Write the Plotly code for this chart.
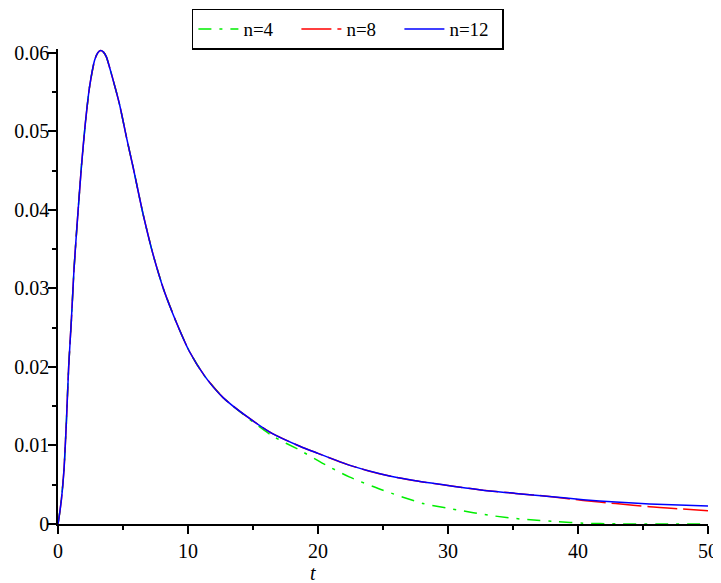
import plotly.graph_objects as go

# Values
t_blue = [0, 0.05, 0.26, 0.46, 0.64, 0.82, 1.03, 1.23, 1.44, 1.8, 2.1, 2.43, 2.82, 3.05, 3.28,
          3.5, 3.72, 4.23, 4.74, 5.26, 5.77, 6.54, 7.3, 8.1, 9.1, 10.1, 11.3, 12.7, 14.6, 16.5,
          18.6, 20, 22.4, 25, 27.5, 30, 32.7, 35.2, 37.8, 40.4, 42.9, 45.5, 50]
y_blue = [0, 0.0005, 0.0031, 0.0069, 0.0128, 0.0200, 0.0260, 0.0324, 0.0375, 0.0455, 0.0510,
          0.0557, 0.0591, 0.0600, 0.0603, 0.0601, 0.0595, 0.0566, 0.0534, 0.0493, 0.0455,
          0.0395, 0.0344, 0.0300, 0.0257, 0.0220, 0.0188, 0.0161, 0.0136, 0.0115, 0.0099,
          0.0090, 0.0075, 0.0063, 0.0055, 0.0049, 0.0043, 0.0039, 0.0035, 0.0031, 0.0028,
          0.00255, 0.0023]

t_red = [0, 0.05, 0.26, 0.46, 0.64, 0.82, 1.03, 1.23, 1.44, 1.8, 2.1, 2.43, 2.82, 3.05, 3.28,
         3.5, 3.72, 4.23, 4.74, 5.26, 5.77, 6.54, 7.3, 8.1, 9.1, 10.1, 11.3, 12.7, 14.6, 16.5,
         18.6, 20, 22.4, 25, 27.5, 30, 32.7, 35.2, 37.8, 40.4, 42.9, 45.5, 50]
y_red = [0, 0.0005, 0.0031, 0.0069, 0.0128, 0.0200, 0.0260, 0.0324, 0.0375, 0.0455, 0.0510,
         0.0557, 0.0591, 0.0600, 0.0603, 0.0601, 0.0595, 0.0566, 0.0534, 0.0493, 0.0455,
         0.0395, 0.0344, 0.0300, 0.0257, 0.0220, 0.0188, 0.0161, 0.0136, 0.0115, 0.0099,
         0.0090, 0.0075, 0.0063, 0.0055, 0.0049, 0.0043, 0.0039, 0.0035, 0.0030, 0.0026,
         0.0022, 0.0017]

t_green = [0, 0.05, 0.26, 0.46, 0.64, 0.82, 1.03, 1.23, 1.44, 1.8, 2.1, 2.43, 2.82, 3.05, 3.28,
           3.5, 3.72, 4.23, 4.74, 5.26, 5.77, 6.54, 7.3, 8.1, 9.1, 10.1, 11.3, 12.7, 14.6, 16.5,
           18.6, 20.4, 22.4, 25, 28.1, 30.7, 33.2, 35.8, 38.4, 40.4, 43, 46, 50]
y_green = [0, 0.0005, 0.0031, 0.0069, 0.0128, 0.0200, 0.0260, 0.0324, 0.0375, 0.0455, 0.0510,
           0.0557, 0.0591, 0.0600, 0.0603, 0.0601, 0.0595, 0.0566, 0.0534, 0.0493, 0.0455,
           0.0395, 0.0344, 0.0300, 0.0257, 0.0220, 0.0188, 0.0161, 0.0135, 0.0112, 0.0094,
           0.0077, 0.0060, 0.0043, 0.0026, 0.0018, 0.0011, 0.0006, 0.0003, 0.0001, 0.00002,
           0.0, 0.0]

y_ticks = [0, 0.01, 0.02, 0.03, 0.04, 0.05, 0.06]
y_ticklabels = ["0", "0.01", "0.02", "0.03", "0.04", "0.05", "0.06"]
x_ticks = [0, 10, 20, 30, 40, 50]

FONT = "Liberation Serif"

fig = go.Figure()
fig.add_trace(go.Scatter(x=t_green, y=y_green, mode="lines", name="n=4",
                         line=dict(color="#00ee00", width=1.5, dash="13px,8px,3px,8px",
                                   shape="spline", smoothing=0.6)))
fig.add_trace(go.Scatter(x=t_red, y=y_red, mode="lines", name="n=8",
                         line=dict(color="#ff0000", width=1.5, dash="30px,6px",
                                   shape="spline", smoothing=0.6)))
fig.add_trace(go.Scatter(x=t_blue, y=y_blue, mode="lines", name="n=12",
                         line=dict(color="#0000ff", width=1.5, shape="spline", smoothing=0.6)))

# page body has an 8px margin, so the figure starts at (8, 8) in the window
fig.update_layout(
    width=713, height=575,
    margin=dict(l=50, r=13, t=41, b=59, autoexpand=False),
    paper_bgcolor="white", plot_bgcolor="white",
    font=dict(family=FONT, size=20, color="black"),
    showlegend=True,
    legend=dict(orientation="h", x=0.446, xanchor="center", y=1.085, yanchor="top",
                bordercolor="black", borderwidth=1.5, bgcolor="white",
                font=dict(family=FONT, size=19), tracegroupgap=0,
                itemwidth=40, entrywidth=48),
    xaxis=dict(range=[0, 50], tickvals=x_ticks, ticks="outside", ticklen=8, tickwidth=1.5,
               tickcolor="black", showline=True, linecolor="black", linewidth=1.5,
               showgrid=False, zeroline=False, automargin=False,
               tickfont=dict(family=FONT, size=20),
               minor=dict(dtick=5, ticks="outside", ticklen=4, tickwidth=1.5, tickcolor="black",
                          showgrid=False)),
    yaxis=dict(range=[0, 0.0605], tickvals=y_ticks, ticktext=y_ticklabels, ticks="outside",
               ticklen=8, tickwidth=1.5, tickcolor="black", showline=True, linecolor="black",
               linewidth=1.5, showgrid=False, zeroline=False, automargin=False,
               ticklabelstandoff=-5,
               tickfont=dict(family=FONT, size=20),
               minor=dict(tickvals=[0.005, 0.015, 0.025, 0.035, 0.045, 0.055], ticks="outside",
                          ticklen=4, tickwidth=1.5, tickcolor="black", showgrid=False)),
    annotations=[dict(text="<i>t</i>", x=19.6, xref="x", y=-0.104, yref="paper",
                      showarrow=False, xanchor="center", yanchor="middle",
                      font=dict(family=FONT, size=20))],
)

fig.write_html("out.html")
